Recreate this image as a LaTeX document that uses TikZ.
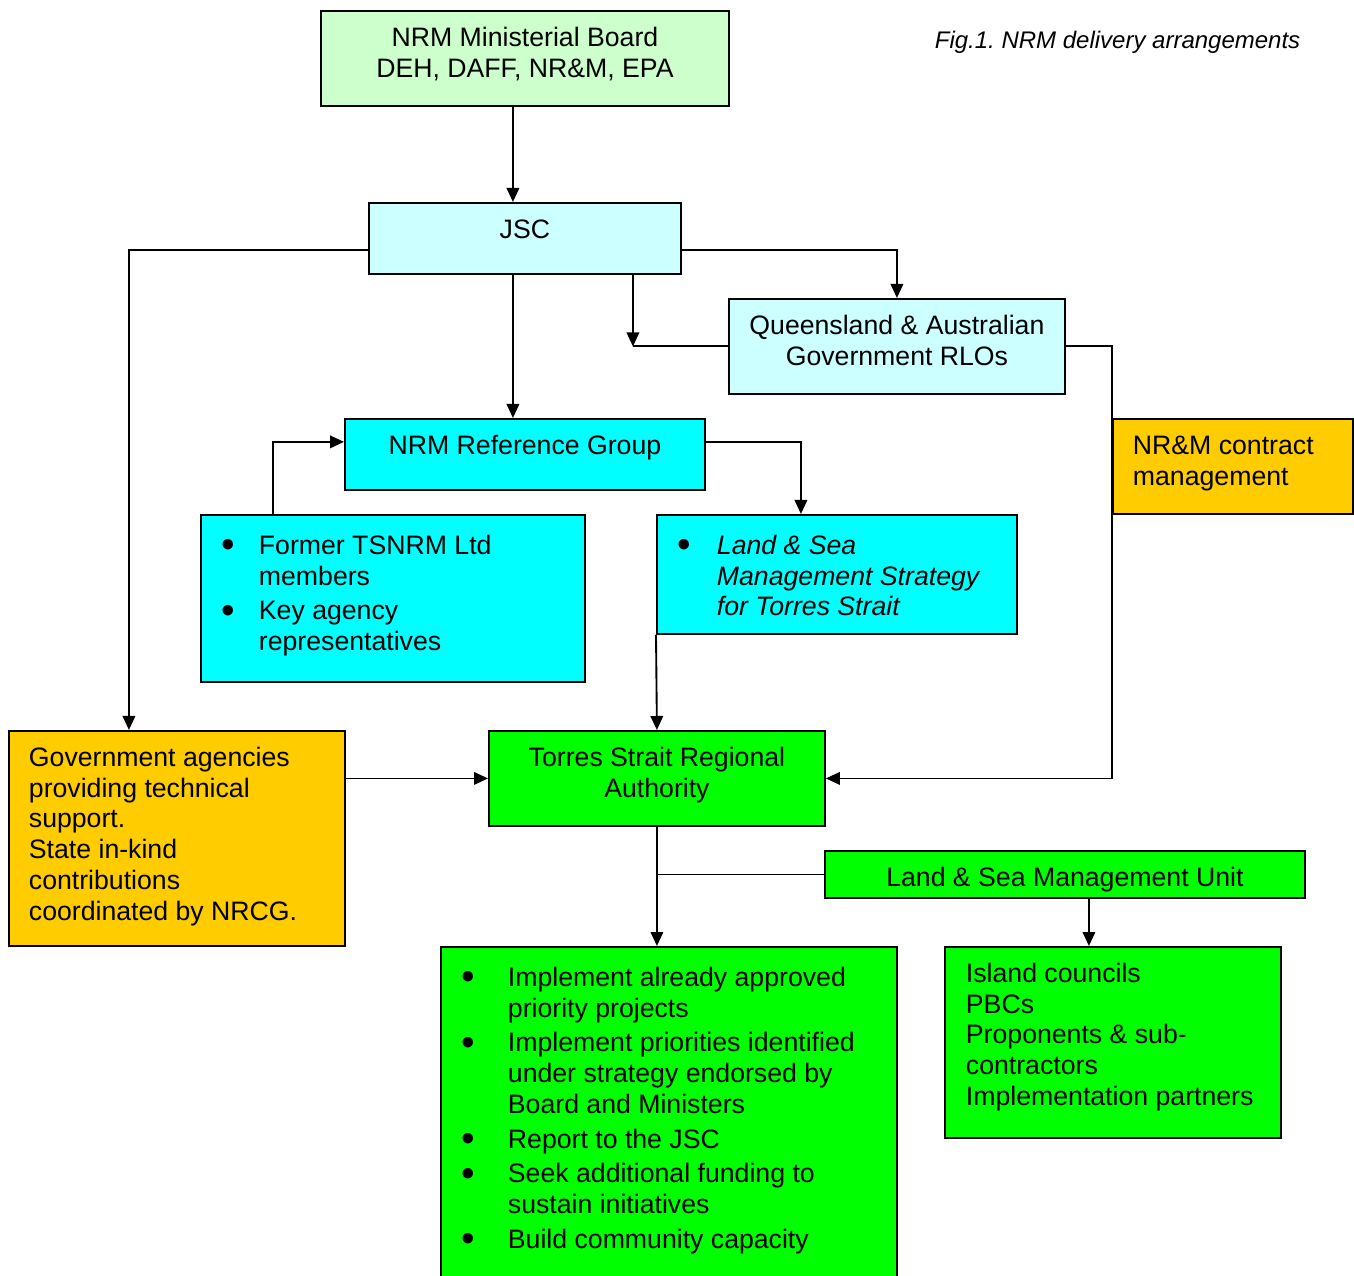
\documentclass[tikz,border=0pt]{standalone}
\usepackage{fontspec}
\setmainfont{Liberation Sans}
\usetikzlibrary{arrows.meta}
\frenchspacing

\definecolor{palegreen}{HTML}{CCFFCC}
\definecolor{palecyan}{HTML}{CCFFFF}
\definecolor{brightcyan}{HTML}{00FFFF}
\definecolor{amber}{HTML}{FFCC00}
\definecolor{brightgreen}{HTML}{00FF00}

% text box of fixed size, text hung from the top
\newcommand{\inbox}[4]{\parbox[c][#2][t]{#1}{#3\vspace*{10.5pt}\strut#4}}
\newcommand{\inlist}[3]{\parbox[c][#2][t]{#1}{\raggedright\parskip=3pt\vspace*{10.5pt}#3}}
\newcommand{\bigdot}{\raisebox{-2.3pt}[0pt][0pt]{\scalebox{1.45}{\textbullet}}}
\newcommand{\bul}[2]{\par\hangindent=#1\hangafter=1\noindent\strut\makebox[#1][l]{\hspace{15.5pt}\bigdot}#2\par}

\begin{document}
\begin{tikzpicture}[x=0.75pt,y=-0.75pt,
  box/.style={draw, line width=1.4pt, inner sep=0pt, anchor=north west,
    font=\fontsize{20pt}{23.06pt}\selectfont},
  arr/.style={-{Triangle[length=10.5pt,width=9.4pt]}, line width=1.4pt}]

\useasboundingbox (0,0) rectangle (1354,1276);
\clip (0,0) rectangle (1354,1276);

\node[anchor=base east, font=\fontsize{18pt}{21pt}\selectfont\itshape] (caption) at (1305,48.5) {Fig.1. NRM delivery arrangements};

\node[box, fill=palegreen] (board) at (320,10) {\inbox{306pt}{71.25pt}{\centering}{NRM Ministerial Board\\DEH, DAFF, NR\&M, EPA}};
\node[box, fill=palecyan] (jsc) at (368,202) {\inbox{234pt}{53.25pt}{\centering}{JSC}};
\node[box, fill=palecyan] (rlo) at (728,298) {\inbox{252pt}{71.25pt}{\centering}{Queensland \& Australian\\Government RLOs}};
\node[box, fill=brightcyan] (ref) at (344,418) {\inbox{270pt}{53.25pt}{\centering}{NRM Reference Group}};
\node[box, fill=brightcyan] (former) at (200,514) {\inlist{288pt}{125.25pt}{%
  \bul{43.5pt}{Former TSNRM Ltd\newline members}%
  \bul{43.5pt}{Key agency\newline representatives}}};
\node[box, fill=brightcyan] (strat) at (656,514) {\inlist{270pt}{89.25pt}{%
  \bul{45pt}{{\itshape Land \& Sea\newline Management Strategy\newline for Torres Strait}}}};
\node[box, fill=amber] (contract) at (1112,418) {\inbox{180pt}{71.25pt}{\raggedright\leftskip=15pt}{NR\&M contract\\management}};
\node[box, fill=amber] (gov) at (8,730) {\inbox{252pt}{161.25pt}{\raggedright\leftskip=15pt}{Government agencies\\providing technical\\support.\\State in-kind\\contributions\\coordinated by NRCG.}};
\node[box, fill=brightgreen] (tsra) at (488,730) {\inbox{252pt}{71.25pt}{\centering}{Torres Strait Regional\\Authority}};
\node[box, fill=brightgreen] (lsmu) at (824,850) {\inbox{360pt}{35.25pt}{\centering}{Land \& Sea Management Unit}};
\node[box, fill=brightgreen] (tasks) at (440,946) {\inlist{342pt}{270pt}{%
  \bul{50.25pt}{Implement already approved\newline priority projects}%
  \bul{50.25pt}{Implement priorities identified\newline under strategy endorsed by\newline Board and Ministers}%
  \bul{50.25pt}{Report to the JSC}%
  \bul{50.25pt}{Seek additional funding to\newline sustain initiatives}%
  \bul{50.25pt}{Build community capacity}}};
\node[box, fill=brightgreen] (partners) at (944,946) {\inbox{252pt}{143.25pt}{\raggedright\leftskip=15.75pt}{Island councils\\PBCs\\Proponents \& sub-\\contractors\\Implementation partners}};

% connectors
\draw[arr] ([xshift=-9pt]board.south) -- ([xshift=-9pt]jsc.north);
\draw[arr] ([yshift=-8.6pt]jsc.west) -| ([xshift=-36pt]gov.north);
\draw[arr] ([yshift=-8.6pt]jsc.east) -| (rlo.north);
\coordinate (jscout) at ([xshift=81pt]jsc.south);
\draw[arr] (jscout) -- (jscout |- rlo.west);
\draw[line width=1.4pt] (rlo.west) -- (jscout |- rlo.west);
\draw[arr] ([xshift=-9pt]jsc.south) -- ([xshift=-9pt]ref.north);
\draw[arr] ([xshift=-90pt]former.north) |- ([yshift=9.4pt]ref.west);
\draw[arr] ([yshift=9.4pt]ref.east) -| ([xshift=-27pt]strat.north);
\draw[arr] (strat.south west) -- (tsra.north);
\draw[arr] (rlo.east) -| (contract.west |- tsra.east) -- (tsra.east);
\draw[arr] (gov.east |- tsra.west) -- (tsra.west);
\draw[arr] (tsra.south) -- (tsra.south |- tasks.north);
\draw[line width=1.4pt] (lsmu.west) -- (lsmu.west -| tsra.south);
\draw[arr] ([xshift=18pt]lsmu.south) -- ([xshift=18pt]lsmu.south |- partners.north);

\end{tikzpicture}
\end{document}
